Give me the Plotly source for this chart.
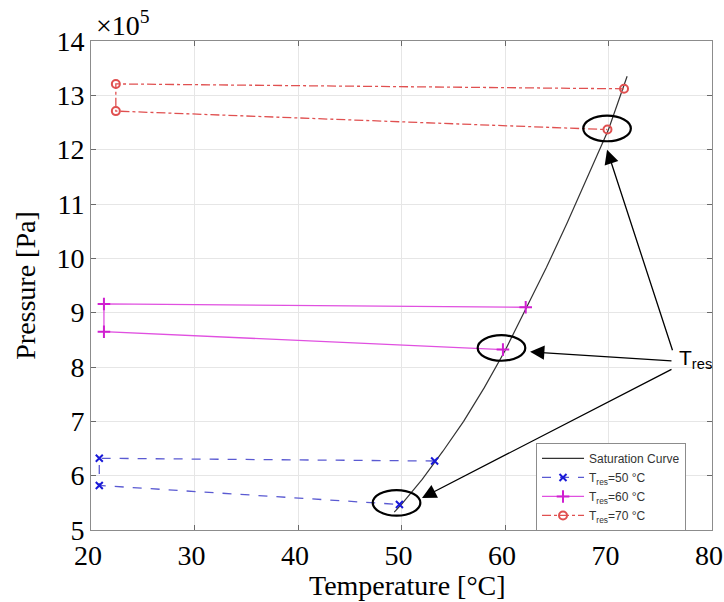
import plotly.graph_objects as go

# Saturation curve (temperature in °C, pressure in 1e5 Pa)
sat_T = [49.3, 50, 52, 54, 56, 58, 60, 62, 64, 66, 68, 70, 71.8]
sat_P = [5.33, 5.47, 5.93, 6.45, 7.00, 7.62, 8.30, 9.05, 9.83, 10.65, 11.50, 12.37, 13.35]

# Series paths: end top -> start top -> start bottom -> end bottom
t50_T = [53.2, 20.8, 20.8, 49.8]
t50_P = [6.27, 6.32, 5.82, 5.47]
t60_T = [62.0, 21.25, 21.25, 59.8]
t60_P = [9.10, 9.16, 8.65, 8.32]
t70_T = [71.5, 22.4, 22.4, 69.9]
t70_P = [13.12, 13.21, 12.71, 12.37]

x_ticks = [20, 30, 40, 50, 60, 70, 80]
y_ticks = [5, 6, 7, 8, 9, 10, 11, 12, 13, 14]

SERIF = "Liberation Serif, Times New Roman, serif"
SANS = "Liberation Sans, Arial, sans-serif"

fig = go.Figure()
fig.add_trace(go.Scatter(x=sat_T, y=sat_P, mode="lines", name="Saturation Curve",
                         line=dict(color="#333333", width=1.2)))
fig.add_trace(go.Scatter(x=t50_T, y=t50_P, mode="lines+markers", name="T<sub>res</sub>=50 °C",
                         line=dict(color="#5a5ad2", width=1.3, dash="dash"),
                         marker=dict(symbol="x-thin", size=7, line=dict(color="#1a1ad8", width=2))))
fig.add_trace(go.Scatter(x=t60_T, y=t60_P, mode="lines+markers", name="T<sub>res</sub>=60 °C",
                         line=dict(color="#e050e0", width=1.3),
                         marker=dict(symbol="cross-thin", size=9, line=dict(color="#d020d0", width=2))))
fig.add_trace(go.Scatter(x=t70_T, y=t70_P, mode="lines+markers", name="T<sub>res</sub>=70 °C",
                         line=dict(color="#e05050", width=1.3, dash="dashdot"),
                         marker=dict(symbol="circle-open", size=8, line=dict(color="#e02a2a", width=2))))

# Ellipses around the T_res points
ellipses = [(49.52, 5.50), (59.66, 8.35), (69.86, 12.39)]
for cx, cy in ellipses:
    fig.add_shape(type="circle", xref="x", yref="y",
                  x0=cx - 2.3, x1=cx + 2.3, y0=cy - 0.235, y1=cy + 0.235,
                  line=dict(color="black", width=2.2))

# Arrows from label
arrows = [((76.23, 8.28), (69.86, 12.0)),
          ((76.23, 8.11), (62.42, 8.28)),
          ((76.23, 7.97), (51.98, 5.59))]
for (tx, ty), (hx, hy) in arrows:
    fig.add_annotation(x=hx, y=hy, ax=tx, ay=ty, xref="x", yref="y", axref="x", ayref="y",
                       text="", showarrow=True, arrowhead=2, arrowsize=2.2, arrowwidth=1.3,
                       arrowcolor="black")

fig.add_annotation(x=76.6, y=8.15, xref="x", yref="y", text="T<sub>res</sub>",
                   showarrow=False, xanchor="left", yanchor="middle",
                   font=dict(family=SANS, size=21, color="black"))

fig.add_annotation(x=0.005, y=1.0, xref="paper", yref="paper", yshift=-2,
                   text="×10<sup>5</sup>", showarrow=False, xanchor="left", yanchor="bottom",
                   font=dict(family=SERIF, size=28, color="black"))

# x-axis title placed as an annotation to match the reference position
fig.add_annotation(x=0.51, y=-0.113, xref="paper", yref="paper",
                   text="Temperature [°C]", showarrow=False, xanchor="center", yanchor="middle",
                   font=dict(family=SERIF, size=28, color="black"))

axis_common = dict(showline=True, linecolor="#8c8c8c", linewidth=1, mirror="ticks",
                   ticks="inside", ticklen=5, tickcolor="#6a6a6a", automargin=False,
                   ticklabeloverflow="allow",
                   showgrid=True, gridcolor="#e6e6e6", gridwidth=1, zeroline=False,
                   tickfont=dict(family=SERIF, size=28, color="black"),
                   title_font=dict(family=SERIF, size=28, color="black"))

fig.update_layout(
    width=724, height=602,
    margin=dict(l=91, r=12, t=41, b=72),
    paper_bgcolor="white", plot_bgcolor="white",
    xaxis=dict(range=[20, 80], tickvals=x_ticks, ticklabelshift=-3, **axis_common),
    yaxis=dict(range=[5, 14], tickvals=y_ticks, title=dict(text="Pressure [Pa]", standoff=12),
               **axis_common),
    legend=dict(x=0.7166, y=0.178, xanchor="left", yanchor="top",
                bgcolor="white", bordercolor="#8c8c8c", borderwidth=1,
                font=dict(family=SANS, size=12, color="#333333"),
                tracegroupgap=0, itemwidth=42),
    showlegend=True,
)

fig.write_html("out.html", config={"displayModeBar": False},
               post_script="document.body.style.margin='0';document.body.style.overflow='hidden';")
